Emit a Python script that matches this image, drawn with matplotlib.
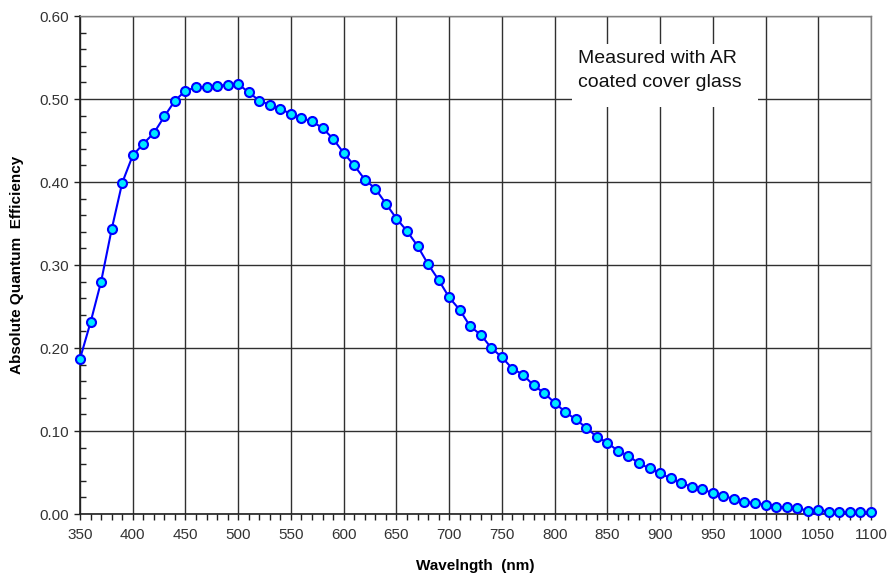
import numpy as np
import matplotlib
matplotlib.use("Agg")
import matplotlib.pyplot as plt
from matplotlib.patches import Rectangle
from matplotlib.ticker import MultipleLocator

plt.rcParams['font.family'] = ['Liberation Sans', 'DejaVu Sans']

# Wavelength (nm) and absolute quantum efficiency
wavelength = np.arange(350, 1101, 10)
qe = [0.187, 0.231, 0.280, 0.343, 0.399, 0.432, 0.446, 0.459, 0.479, 0.498,
      0.510, 0.514, 0.514, 0.516, 0.517, 0.518, 0.508, 0.498, 0.493, 0.488,
      0.482, 0.477, 0.473, 0.465, 0.452, 0.435, 0.420, 0.403, 0.392, 0.374,
      0.356, 0.341, 0.323, 0.301, 0.282, 0.261, 0.246, 0.226, 0.216, 0.200,
      0.189, 0.175, 0.168, 0.155, 0.146, 0.134, 0.123, 0.114, 0.104, 0.093,
      0.086, 0.076, 0.070, 0.061, 0.055, 0.049, 0.043, 0.037, 0.033, 0.030,
      0.025, 0.022, 0.018, 0.015, 0.013, 0.011, 0.009, 0.008, 0.007, 0.004,
      0.005, 0.003, 0.002, 0.002, 0.002, 0.002]

note = "Measured with AR\ncoated cover glass"

fig = plt.figure(figsize=(8.92, 5.78), dpi=100)
ax = fig.add_axes([0.0897, 0.1107, 0.8868, 0.8616])

ax.plot(wavelength, qe, color='#0000ff', lw=1.5, marker='o', ms=6.5,
        mfc='#00e8ff', mec='#0000ff', mew=1.5, zorder=4, clip_on=False)

ax.set_xlim(350, 1100)
ax.set_ylim(0, 0.6)
ax.xaxis.set_major_locator(MultipleLocator(50))
ax.xaxis.set_minor_locator(MultipleLocator(10))
ax.yaxis.set_major_locator(MultipleLocator(0.1))
ax.yaxis.set_minor_locator(MultipleLocator(0.02))
ax.yaxis.set_major_formatter(matplotlib.ticker.FormatStrFormatter('%.2f'))

ax.grid(True, which='major', color='#303030', lw=1.0, zorder=1)
ax.tick_params(axis='both', which='major', labelsize=11, labelcolor='#333333',
               direction='out', length=4, width=1, color='#202020')
ax.tick_params(axis='y', which='major', pad=4)
ax.tick_params(axis='x', which='major', pad=6)
ax.tick_params(axis='x', which='minor', direction='out', length=4, width=1, color='#202020')
ax.tick_params(axis='y', which='minor', direction='in', length=4, width=1, color='#202020')

for side in ['left', 'bottom']:
    ax.spines[side].set_color('#202020')
    ax.spines[side].set_linewidth(1.2)
for side in ['top', 'right']:
    ax.spines[side].set_color('#808080')
    ax.spines[side].set_linewidth(1.0)

ax.set_xlabel("Wavelngth  (nm)", fontsize=11, fontweight='bold')
ax.set_ylabel("Absolute Quantum  Efficiency", fontsize=11, fontweight='bold')
ax.xaxis.set_label_coords(0.5, -0.09)
ax.yaxis.set_label_coords(-0.071, 0.5)

# note box covering the grid
ax.add_patch(Rectangle((0.622, 0.817), 0.235, 0.127, transform=ax.transAxes,
                       facecolor='white', edgecolor='none', zorder=2))
ax.text(0.629, 0.932, note, transform=ax.transAxes, fontsize=14,
        va='top', ha='left', color='#111111', linespacing=1.55, zorder=3)

fig.savefig("out.png", dpi=100)
